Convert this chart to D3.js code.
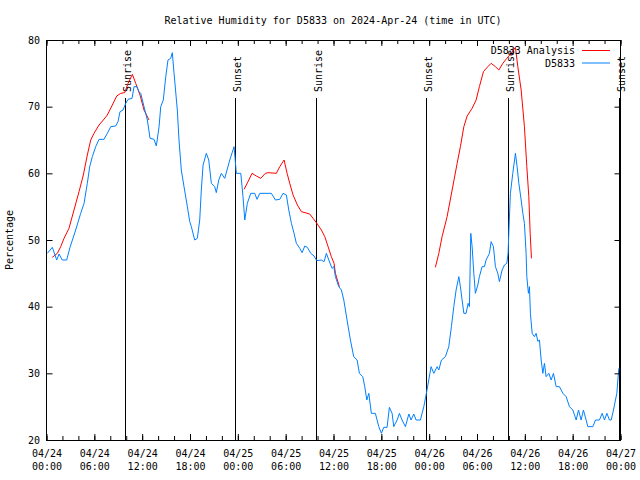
<!DOCTYPE html>
<html><head><meta charset="utf-8">
<script src="https://cdn.jsdelivr.net/npm/d3@7"></script>
<style>
body{margin:0;background:#fff}
text{font-family:"DejaVu Sans Mono",monospace;font-size:10px;fill:#000}
</style>
</head><body><svg id="c" width="640" height="480"></svg>
<script>
const title = "Relative Humidity for D5833 on 2024-Apr-24 (time in UTC)";
const yLabel = "Percentage";
const seriesNames = ["D5833 Analysis", "D5833"];
const yTicks = [20, 30, 40, 50, 60, 70, 80];
// hours since 2024-04-24 00:00 UTC
const sunEvents = [["Sunrise", 9.89], ["Sunset", 23.61], ["Sunrise", 33.85], ["Sunset", 47.65], ["Sunrise", 57.94], ["Sunset", 71.79]];

// [hours since start, %] ; null = gap
const analysis = [
  [0.73,47.4],[1.36,48],[1.78,49],[2.20,50.25],[2.82,51.75],[3.45,54.5],[4.08,57.25],[4.62,59.75],[5.12,62.75],[5.55,65],[5.96,66],[6.59,67.25],[7.13,68],[7.63,68.75],[8.26,70.25],[8.81,71.6],[9.31,72],[9.81,72.1],[10.23,73.5],[10.77,74.85],[11.19,73.5],[11.73,71.75],[12.23,69.5],[12.86,68],
  null,
  [24.78,57.6],[25.28,58.75],[25.78,60],[26.32,59.6],[26.88,59.25],[27.45,60],[27.79,60.1],[28.83,60],[29.26,61],[29.80,62],[30.18,60],[30.51,58.5],[30.93,56.75],[31.47,55.25],[31.97,54.25],[33.02,53.9],[33.44,53.25],[33.85,52.6],[34.48,51.5],[34.91,50.5],[35.32,49],[35.73,47.5],[36.07,46.5],[36.24,45],[36.74,43],
  null,
  [48.78,45.9],[49.21,48],[49.62,50.5],[50.25,53.5],[50.88,57.5],[51.51,61.5],[51.92,64],[52.35,67],[52.76,68.6],[53.39,69.75],[53.89,71],[54.30,73],[54.81,75.25],[55.36,76],[55.77,76.5],[56.31,76],[56.74,75.5],[57.24,76.5],[57.74,77.25],[58.28,78],[58.82,78.9],[59.12,76],[59.54,72.5],[59.95,67],[60.25,61],[60.50,56.5],[60.67,51],[60.83,47.25]
];

const observed = [
  [0.10,48.0],[0.73,48.9],[1.28,47.0],[1.57,47.9],[1.98,47.0],[2.53,47.0],[2.95,48.9],[3.66,51.5],[4.29,54.0],[4.71,55.5],[5.12,58.5],[5.42,61.0],[5.75,62.5],[6.17,64.0],[6.59,65.1],[7.21,65.1],[7.63,66.0],[8.06,67.0],[8.68,67.1],[8.97,67.75],[9.22,69.25],[9.60,69.5],[9.94,70.5],[10.23,71.1],[10.73,71.25],[10.98,73.0],[11.32,73.0],[11.61,72.25],[11.82,72.0],[12.23,70.0],[12.65,68.0],[12.99,65.25],[13.49,65.1],[13.78,64.1],[14.12,67.0],[14.33,70.0],[14.65,71.0],[14.96,74.5],[15.24,77.0],[15.58,77.25],[15.78,78.1],[16.00,75.0],[16.41,69.5],[16.62,65.0],[16.91,60.5],[17.25,58.0],[17.67,55.0],[17.97,52.75],[18.17,52.0],[18.59,50.0],[18.92,50.25],[19.22,53.0],[19.42,57.5],[19.64,61.25],[20.05,63.0],[20.35,62.0],[20.68,58.5],[21.10,58.0],[21.30,57.1],[21.61,59.0],[21.93,60.0],[22.36,59.25],[22.99,62.0],[23.53,64.0],[23.81,60.0],[24.37,60.0],[24.65,56.5],[24.87,53.0],[25.19,55.5],[25.62,57.0],[26.12,57.0],[26.41,56.1],[26.75,57.0],[28.21,57.0],[28.71,56.0],[29.26,56.1],[29.67,57.0],[30.09,56.75],[30.39,54.5],[30.72,52.5],[31.05,51.0],[31.34,49.5],[31.77,48.75],[32.06,48.1],[32.40,49.1],[32.72,48.9],[33.15,48.0],[33.56,47.6],[33.90,46.9],[34.48,47.0],[34.82,46.75],[35.11,48.0],[35.41,47.0],[35.82,45.75],[36.04,46.0],[36.24,44.5],[36.66,43.0],[36.99,42.5],[37.29,41.0],[37.70,38.0],[38.12,35.0],[38.54,32.5],[38.96,32.0],[39.25,30.0],[39.67,29.5],[39.92,28.0],[40.18,26.0],[40.43,27.0],[40.75,24.0],[41.25,24.0],[41.68,22.0],[42.01,21.0],[42.31,21.9],[42.72,21.9],[43.01,24.9],[43.35,24.0],[43.56,22.0],[43.98,23.0],[44.27,24.0],[44.60,23.0],[45.02,22.0],[45.45,23.9],[45.73,23.0],[46.07,23.9],[46.36,23.0],[46.90,23.0],[47.33,25.0],[47.65,27.0],[47.95,29.0],[48.24,31.0],[48.58,30.0],[49.00,31.0],[49.21,30.5],[49.54,32.0],[50.04,32.5],[50.46,34.0],[50.79,37.0],[51.09,40.0],[51.38,42.5],[51.72,44.5],[51.92,43.0],[52.13,41.0],[52.35,39.0],[52.63,39.0],[52.89,40.5],[53.05,40.0],[53.22,51.0],[53.39,49.0],[53.60,45.0],[53.80,42.0],[54.10,43.25],[54.30,44.5],[54.64,46.0],[54.93,46.0],[55.14,47.0],[55.56,48.0],[55.77,49.75],[56.06,49.0],[56.31,46.0],[56.61,45.0],[56.81,43.75],[57.15,45.5],[57.44,46.25],[57.74,46.5],[57.90,48.0],[57.99,51.0],[58.19,57.0],[58.49,60.0],[58.82,63.0],[59.03,61.0],[59.25,58.5],[59.54,56.0],[59.75,54.0],[59.95,52.5],[60.16,48.0],[60.25,44.5],[60.45,42.0],[60.58,43.0],[60.70,39.0],[60.92,36.0],[61.20,35.5],[61.42,36.0],[61.63,34.8],[61.83,35.0],[62.05,32.0],[62.26,30.0],[62.46,31.5],[62.67,29.5],[63.01,30.0],[63.30,29.0],[63.59,30.0],[63.93,28.0],[64.34,28.0],[64.77,27.0],[65.18,26.5],[65.60,25.0],[66.02,24.5],[66.44,23.0],[66.73,24.5],[67.06,23.0],[67.35,24.5],[67.69,23.0],[67.90,22.0],[68.53,22.0],[68.86,23.0],[69.36,23.0],[69.70,24.0],[69.99,23.0],[70.29,24.0],[70.62,23.0],[70.83,23.0],[71.12,24.5],[71.37,26.0],[71.54,27.0],[71.67,29.0],[71.79,30.75]
];

const colors = ["#ff0000", "#0080ff"];
const start = Date.UTC(2024, 3, 24);
const toDate = h => new Date(start + h * 3600e3);

const svg = d3.select("#c");
const L = 46.5, R = 620.5, T = 40, B = 440;
const x = d3.scaleUtc().domain([toDate(0), toDate(72)]).range([L, R]);
const y = d3.scaleLinear().domain([20, 80]).range([B, T]);

// title
svg.append("text").attr("x", 333).attr("y", 24).attr("text-anchor", "middle").text(title);

// y label
svg.append("text").attr("transform", "translate(13,240) rotate(-90)").attr("text-anchor", "middle").text(yLabel);

// sun event lines
sunEvents.forEach(([name, h]) => {
  const px = Math.round(x(toDate(h))) + 0.5;
  svg.append("line").attr("x1", px).attr("x2", px).attr("y1", 98).attr("y2", B)
    .attr("stroke", "#000").attr("stroke-width", 1);
  svg.append("text").attr("transform", `translate(${px + 5},92) rotate(-90)`)
    .attr("text-anchor", "start").text(name);
});

// data lines
const line = d3.line().defined(d => d !== null)
  .x(d => x(toDate(d[0]))).y(d => y(d[1]));
svg.append("path").datum(analysis).attr("d", line).attr("fill", "none")
  .attr("stroke", colors[0]).attr("stroke-width", 1);
svg.append("path").datum(observed).attr("d", line).attr("fill", "none")
  .attr("stroke", colors[1]).attr("stroke-width", 1);

// axes
const fmtD = d3.utcFormat("%m/%d"), fmtT = d3.utcFormat("%H:%M");
const tickStyle = g => { g.select(".domain").remove(); g.selectAll(".tick line").attr("stroke", "#000"); };

svg.append("g").attr("transform", `translate(0,${B})`)
  .call(d3.axisBottom(x).ticks(d3.utcHour.every(2)).tickSize(-4).tickFormat(""))
  .call(tickStyle);
svg.append("g").attr("transform", `translate(0,${T})`)
  .call(d3.axisTop(x).ticks(d3.utcHour.every(2)).tickSize(-4).tickFormat(""))
  .call(tickStyle);
svg.append("g").attr("transform", `translate(0,${B})`)
  .call(d3.axisBottom(x).ticks(d3.utcHour.every(6)).tickSize(-6).tickPadding(0).tickFormat(fmtD))
  .call(tickStyle)
  .call(g => g.selectAll(".tick text").each(function(d) {
    const t = d3.select(this);
    t.text(null).attr("dy", null).attr("y", null).attr("fill", null);
    t.append("tspan").attr("x", 0).attr("y", 17).text(fmtD(d));
    t.append("tspan").attr("x", 0).attr("y", 30).text(fmtT(d));
  }));
svg.append("g").attr("transform", `translate(0,${T})`)
  .call(d3.axisTop(x).ticks(d3.utcHour.every(6)).tickSize(-6).tickFormat(""))
  .call(tickStyle);
svg.append("g").attr("transform", `translate(${L},0)`)
  .call(d3.axisLeft(y).tickValues(yTicks).tickSize(-6).tickPadding(6.5))
  .call(tickStyle)
  .call(g => g.selectAll(".tick text").attr("fill", null));
svg.append("g").attr("transform", `translate(${R},0)`)
  .call(d3.axisRight(y).tickValues(yTicks).tickSize(-6).tickFormat(""))
  .call(tickStyle);

// frame
svg.append("rect").attr("x", L).attr("y", T + 0.5).attr("width", R - L).attr("height", B - T)
  .attr("fill", "none").attr("stroke", "#000").attr("stroke-width", 1);

// legend
seriesNames.forEach((name, i) => {
  const ly = 50.5 + i * 12.5;
  svg.append("text").attr("x", 575).attr("y", ly + 3.5).attr("text-anchor", "end").text(name);
  svg.append("line").attr("x1", 582).attr("x2", 610).attr("y1", ly).attr("y2", ly)
    .attr("stroke", colors[i]).attr("stroke-width", 1);
});
</script>
</body></html>
